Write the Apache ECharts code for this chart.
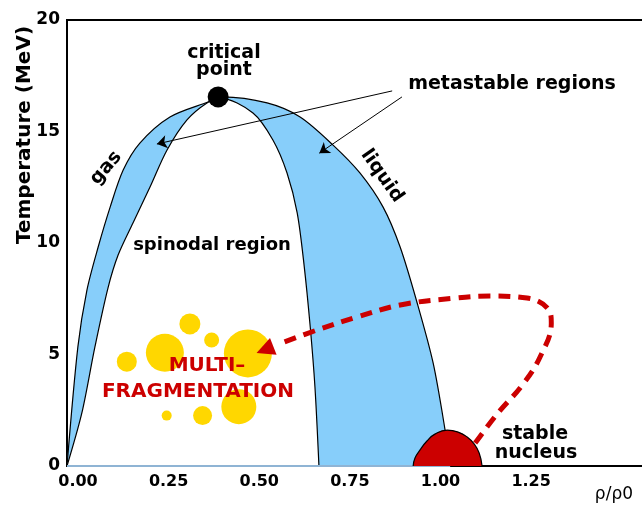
<!DOCTYPE html>
<html><head><meta charset="utf-8">
<script src="https://cdn.jsdelivr.net/npm/echarts@6/dist/echarts.min.js"></script>
<style>html,body{margin:0;padding:0;background:#fff}#c{width:642px;height:505px}</style>
</head><body><div id="c"></div>
<script>
// tick labels
const xTickLabels = ['0.00','0.25','0.50','0.75','1.00','1.25'];
const yTickLabels = ['0','5','10','15','20'];
// coexistence (outer) curve [rho/rho0, T]
const binodal = [[0,0],[0.030,5.34],[0.055,7.89],[0.086,9.82],[0.119,11.61],[0.155,13.27],[0.201,14.48],[0.284,15.65],[0.389,16.32],[0.428,16.55],[0.552,16.28],[0.643,15.65],[0.734,14.39],[0.808,13.14],[0.872,11.61],[0.919,9.82],[0.966,7.31],[1.010,4.62],[1.043,1.61],[1.057,0]];
// spinodal (inner) curve
const spinodal = [[0,0],[0.041,2.38],[0.077,5.34],[0.113,7.98],[0.141,9.46],[0.182,10.90],[0.229,12.51],[0.276,14.17],[0.331,15.52],[0.386,16.28],[0.422,16.50],[0.513,15.83],[0.568,14.62],[0.607,13.14],[0.635,11.35],[0.654,9.01],[0.671,6.23],[0.684,3.54],[0.695,0]];
// stable nucleus dome
const nucleus = [[0.955,0],[0.960,0.36],[0.974,0.72],[0.993,1.12],[1.015,1.43],[1.049,1.61],[1.079,1.52],[1.104,1.30],[1.123,0.99],[1.137,0.58],[1.145,0]];
// fragments [x, T, diameter]
const fragments = [[0.165,4.68,20],[0.339,6.37,21],[0.270,5.08,38],[0.399,5.65,15],[0.499,5.05,48],[0.474,2.66,35],[0.374,2.26,19],[0.275,2.26,10]];
// critical point
const criticalPoint = [0.417,16.55];
// reaction trajectory (dashed)
const trajectory = [[1.126,1.03],[1.189,2.38],[1.256,3.63],[1.305,4.89],[1.336,6.41],[1.325,7.09],[1.269,7.53],[1.167,7.62],[1.071,7.53],[0.919,7.22],[0.800,6.68],[0.690,6.10],[0.593,5.52]];
const trajectoryHead = [[0.593,5.52],[0.546,5.22]];
// metastable arrows
const metastableArrows = [[[0.897,16.82],[0.248,14.44]],[[0.924,16.55],[0.696,14.03]]];

const chart = echarts.init(document.getElementById('c'), null, {renderer:'canvas'});
const F = '"DejaVu Sans", sans-serif';
const txt = (text, x, y, o = {}) => ({
  type:'text', x, y, rotation:o.rot || 0, z:100,
  style:{text, font:o.font || ('bold 19px ' + F), fill:o.fill || '#000', align:o.align || 'center', verticalAlign:'middle'}
});
chart.setOption({
  animation:false,
  backgroundColor:'#fff',
  grid:{left:67, right:-5, top:20, bottom:39, show:true, borderColor:'#000', borderWidth:2, backgroundColor:'transparent', outerBoundsMode:'none', containLabel:false},
  xAxis:{type:'value', min:0, max:1.6, interval:0.25,
    axisLine:{show:false}, axisTick:{show:false}, splitLine:{show:false},
    axisLabel:{color:'#000', fontSize:16, fontWeight:'bold', fontFamily:F, margin:8, padding:[0,0,0,22],
      formatter:v => { const i = Math.round(v/0.25); return (Math.abs(v - i*0.25) < 1e-6 && i < xTickLabels.length) ? xTickLabels[i] : ''; }}},
  yAxis:{type:'value', min:0, max:20, interval:5,
    axisLine:{show:false}, axisTick:{show:false}, splitLine:{show:false},
    axisLabel:{color:'#000', fontSize:17, fontWeight:'bold', fontFamily:F, margin:7,
      formatter:v => yTickLabels[Math.round(v/5)] || ''}},
  series:[
    {type:'line', data:binodal, smooth:0.3, showSymbol:false, z:2,
      lineStyle:{color:'#000', width:1.2}, areaStyle:{color:'#87cefa', opacity:1}},
    {type:'line', data:spinodal, smooth:0.3, showSymbol:false, z:3,
      lineStyle:{color:'#000', width:1.2}, areaStyle:{color:'#ffffff', opacity:1}},
    {type:'line', data:[[0,0],[1.057,0]], showSymbol:false, z:4,
      lineStyle:{color:'#8fb4d4', width:2}},
    {type:'scatter', data:fragments, symbol:'circle', symbolSize:d => d[2], z:5,
      itemStyle:{color:'#ffd700', opacity:1}},
    {type:'line', data:trajectory, smooth:0.4, showSymbol:false, z:6,
      lineStyle:{color:'#cc0000', width:5, type:[12,8], cap:'butt'}},
    {type:'lines', coordinateSystem:'cartesian2d', z:7,
      data:[{coords:trajectoryHead}], symbol:['none','triangle'], symbolSize:18,
      lineStyle:{color:'#cc0000', width:0, opacity:1}},
    {type:'line', data:nucleus, smooth:0.5, showSymbol:false, z:8,
      lineStyle:{color:'#000', width:1.2}, areaStyle:{color:'#cc0000', opacity:1}},
    {type:'lines', coordinateSystem:'cartesian2d', z:9,
      data:metastableArrows.map(c => ({coords:c})), symbol:['none','arrow'], symbolSize:10,
      lineStyle:{color:'#000', width:1, opacity:1}},
    {type:'scatter', data:[criticalPoint], symbol:'circle', symbolSize:21, z:10,
      itemStyle:{color:'#000', opacity:1}}
  ],
  graphic:[
    txt('critical',224,53),
    txt('point',224,70),
    txt('metastable regions',512,84),
    txt('gas',106,168,{rot:0.87}),
    txt('liquid',382,176,{rot:-0.96}),
    txt('spinodal region',212,245,{font:'bold 18px ' + F}),
    txt('MULTI–',207,366,{fill:'#cc0000', font:'bold 20px ' + F}),
    txt('FRAGMENTATION',198,392,{fill:'#cc0000', font:'bold 20px ' + F}),
    txt('stable',535,434),
    txt('nucleus',536,453),
    txt('Temperature (MeV)',25,135,{rot:Math.PI/2, font:'bold 20px ' + F}),
    txt('ρ/ρ0',633,495,{align:'right', font:'17px ' + F})
  ]
});
</script></body></html>
